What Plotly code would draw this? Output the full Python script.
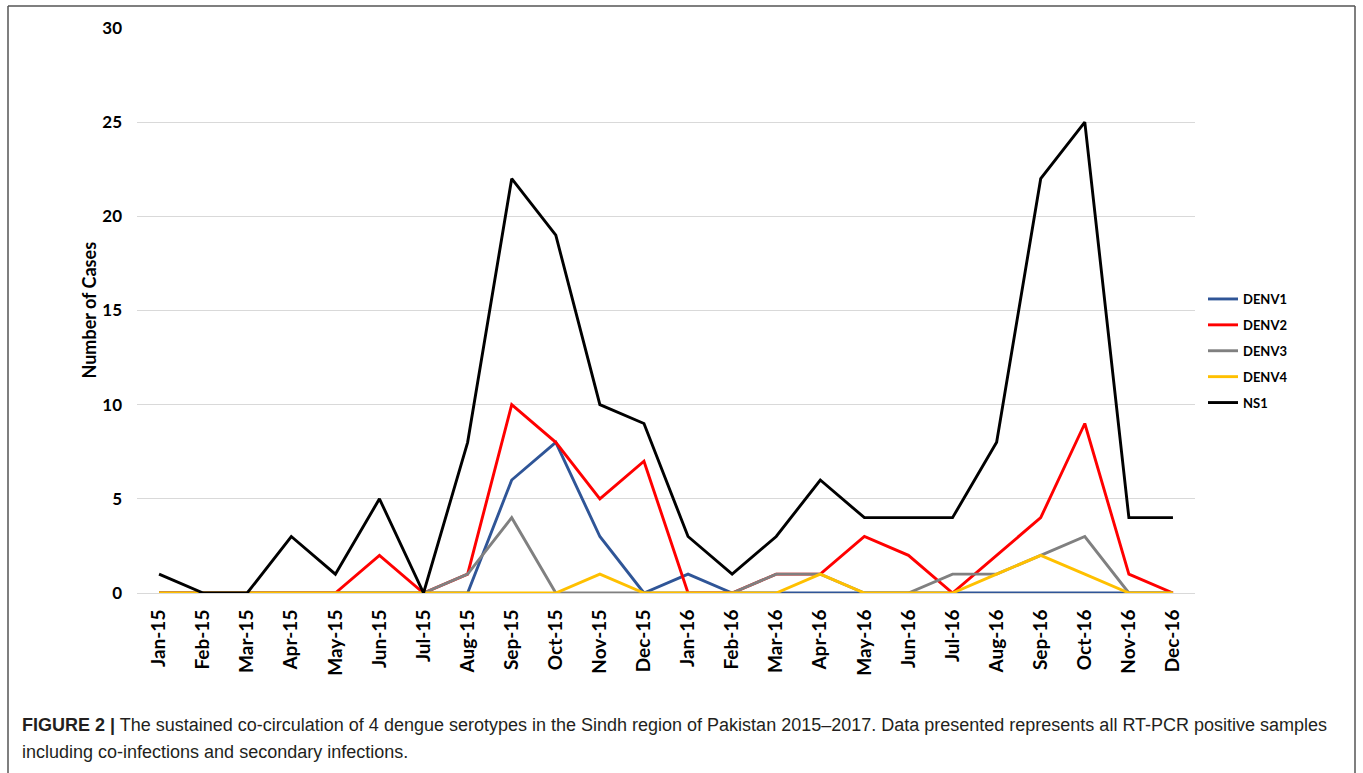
import plotly.graph_objects as go

months = ["Jan-15", "Feb-15", "Mar-15", "Apr-15", "May-15", "Jun-15", "Jul-15", "Aug-15",
          "Sep-15", "Oct-15", "Nov-15", "Dec-15", "Jan-16", "Feb-16", "Mar-16", "Apr-16",
          "May-16", "Jun-16", "Jul-16", "Aug-16", "Sep-16", "Oct-16", "Nov-16", "Dec-16"]

denv1 = [0, 0, 0, 0, 0, 0, 0, 0, 6, 8, 3, 0, 1, 0, 0, 0, 0, 0, 0, 0, 0, 0, 0, 0]
denv2 = [0, 0, 0, 0, 0, 2, 0, 1, 10, 8, 5, 7, 0, 0, 1, 1, 3, 2, 0, 2, 4, 9, 1, 0]
denv3 = [0, 0, 0, 0, 0, 0, 0, 1, 4, 0, 0, 0, 0, 0, 1, 1, 0, 0, 1, 1, 2, 3, 0, 0]
denv4 = [0, 0, 0, 0, 0, 0, 0, 0, 0, 0, 1, 0, 0, 0, 0, 1, 0, 0, 0, 1, 2, 1, 0, 0]
ns1 = [1, 0, 0, 3, 1, 5, 0, 8, 22, 19, 10, 9, 3, 1, 3, 6, 4, 4, 4, 8, 22, 25, 4, 4]

series = [("DENV1", denv1, "#2f5597"), ("DENV2", denv2, "#ff0000"),
          ("DENV3", denv3, "#808080"), ("DENV4", denv4, "#ffc000"),
          ("NS1", ns1, "#000000")]

y_ticks = [0, 5, 10, 15, 20, 25, 30]

caption_line1 = ("<b>FIGURE 2 |</b> The sustained co-circulation of 4 dengue serotypes in the Sindh region "
                 "of Pakistan 2015–2017. Data presented represents all RT-PCR positive samples")
caption_line2 = "including co-infections and secondary infections."

fig = go.Figure()
for i, (name, vals, col) in enumerate(series):
    fig.add_trace(go.Scatter(x=months, y=vals, name=name, mode="lines",
                             line=dict(color=col, width=2.9), legendgroup=str(i)))

L, R, T, B = 137, 1195, 28, 593
W, H = 1363, 773
pw, ph = R - L, B - T

def px(x):
    return (x - L) / pw

def py(y):
    return (B - y) / ph

cap_font = dict(size=18, family="Liberation Sans, Arial, sans-serif", color="#231f20")

fig.update_layout(
    width=W, height=H,
    margin=dict(l=L, r=W - R, t=T, b=H - B),
    paper_bgcolor="white", plot_bgcolor="white",
    font=dict(family="Lato, Open Sans, sans-serif", color="#000000"),
    showlegend=True,
    legend=dict(x=px(1203), y=py(284), xanchor="left", yanchor="top",
                traceorder="grouped", tracegroupgap=6,
                font=dict(size=13, family="Lato, Open Sans, sans-serif", weight="bold"),
                itemwidth=30, bgcolor="rgba(0,0,0,0)"),
    xaxis=dict(type="category", categoryorder="array", categoryarray=months,
               range=[-0.5, len(months) - 0.5], showgrid=False,
               showline=True, linecolor="#d9d9d9", linewidth=1,
               ticks="", tickangle=-90,
               tickfont=dict(size=19, weight="bold"), ticklabelstandoff=8),
    yaxis=dict(range=[0, 30], tickvals=y_ticks, showgrid=True, gridcolor="#d9d9d9",
               gridwidth=1, zeroline=False, showline=False, ticks="",
               tickfont=dict(size=17, weight="bold"), ticklabelstandoff=14),
    annotations=[
        dict(text="<b>Number of Cases</b>", x=px(88), y=0.5, xref="paper", yref="paper",
             textangle=-90, showarrow=False, xanchor="center", yanchor="middle",
             font=dict(size=18)),
        dict(text=caption_line1, x=px(20), y=py(725), xref="paper", yref="paper",
             xanchor="left", yanchor="middle", align="left", showarrow=False,
             font=cap_font),
        dict(text=caption_line2, x=px(20), y=py(752), xref="paper", yref="paper",
             xanchor="left", yanchor="middle", align="left", showarrow=False,
             font=cap_font),
    ],
    shapes=[
        dict(type="line", xref="paper", yref="paper", x0=px(8), x1=px(8), y0=py(6), y1=py(780),
             line=dict(color="#555555", width=1.5)),
        dict(type="line", xref="paper", yref="paper", x0=px(1355), x1=px(1355), y0=py(6), y1=py(780),
             line=dict(color="#555555", width=1.5)),
        dict(type="line", xref="paper", yref="paper", x0=px(8), x1=px(1355), y0=py(6), y1=py(6),
             line=dict(color="#555555", width=1.5)),
    ],
)

fig.write_html("out.html", config={"displayModeBar": False},
               post_script="document.body.style.margin='0';")
